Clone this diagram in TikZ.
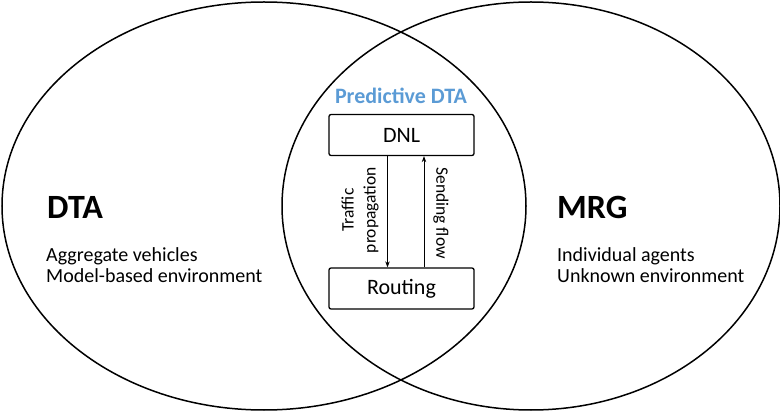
\documentclass[tikz,border=0pt]{standalone}
\usepackage{fontspec}
\setmainfont{Carlito}
\usetikzlibrary{arrows.meta}
\definecolor{predblue}{RGB}{91,155,213}

\begin{document}
\begin{tikzpicture}[x=1pt, y=-1pt, >={Stealth[length=6pt, width=4.5pt]}]
  \useasboundingbox (0,0) rectangle (780,414);

  % The two sets
  \draw[line width=1.5pt] (264,206) ellipse [x radius=262pt, y radius=204pt];
  \draw[line width=1.5pt] (531,206) ellipse [x radius=249pt, y radius=204pt];

  % Left set: DTA
  \node[anchor=base west, inner sep=0pt, font=\fontsize{34}{38}\selectfont\bfseries] (dta) at (47,219) {DTA};
  \node[anchor=base west, inner sep=0pt, font=\fontsize{20}{24}\selectfont] (agg) at (46,262) {Aggregate vehicles};
  \node[anchor=base west, inner sep=0pt, font=\fontsize{20}{24}\selectfont] (model) at (46,283) {Model-based environment};

  % Right set: MRG
  \node[anchor=base west, inner sep=0pt, font=\fontsize{34}{38}\selectfont\bfseries] (mrg) at (557,219) {MRG};
  \node[anchor=base west, inner sep=0pt, font=\fontsize{20}{24}\selectfont] (indiv) at (557,262) {Individual agents};
  \node[anchor=base west, inner sep=0pt, font=\fontsize{20}{24}\selectfont] (unknown) at (557,283) {Unknown environment};

  % Overlap: Predictive DTA
  \node[text=predblue, font=\fontsize{22}{26}\selectfont\bfseries] (pred) at (401,96) {Predictive DTA};
  \node[draw, line width=1.3pt, rounded corners=2pt, minimum width=145pt, minimum height=41pt,
        font=\fontsize{22}{26}\selectfont] (dnl) at (401.5,135) {DNL};
  \node[draw, line width=1.3pt, rounded corners=2pt, minimum width=145pt, minimum height=41pt,
        font=\fontsize{22}{26}\selectfont] (routing) at (401.5,288.5) {Routing};

  % Loop between the two boxes
  \draw[->, line width=0.9pt] ([xshift=-14pt]dnl.south) -- ([xshift=-14pt]routing.north);
  \draw[->, line width=0.9pt] ([xshift=22.5pt]routing.north) -- ([xshift=22.5pt]dnl.south);

  \node[rotate=90, align=center, font=\fontsize{17.5}{22}\selectfont] (traffic) at (360,210) {Traffic\\propagation};
  \node[rotate=-90, font=\fontsize{17.5}{22}\selectfont] (sending) at (441,213) {Sending flow};
\end{tikzpicture}
\end{document}
